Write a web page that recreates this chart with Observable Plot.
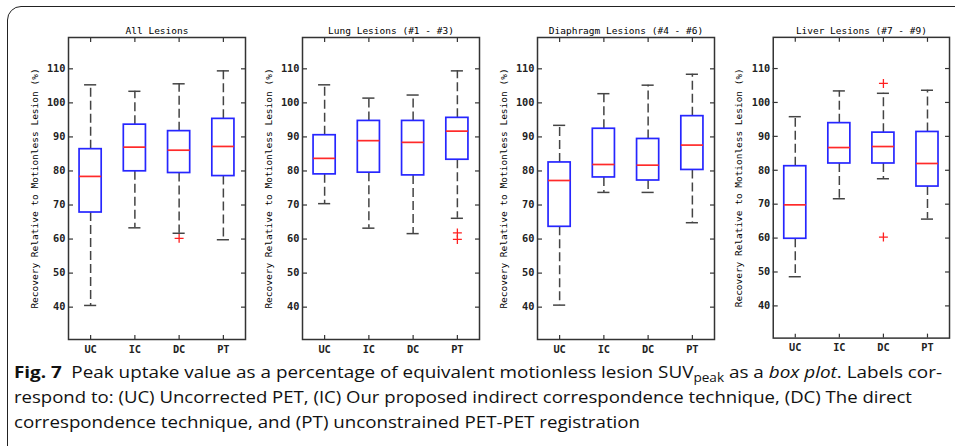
<!DOCTYPE html>
<html>
<head>
<meta charset="utf-8">
<script src="https://cdn.jsdelivr.net/npm/d3@7"></script>
<script src="https://cdn.jsdelivr.net/npm/@observablehq/plot@0.6"></script>
<style>
  html, body { margin: 0; padding: 0; background: #fff; }
  body { width: 955px; height: 446px; overflow: hidden; position: relative; }
  #border { position: absolute; left: 7px; top: 6px; width: 975px; height: 460px;
            border: 1.5px solid #222; border-radius: 14px; box-sizing: border-box; }
  .panel { position: absolute; top: 0; }
  .panel svg { background: transparent !important; overflow: visible; }
  #caption { position: absolute; left: 14px; top: 359px; font-family: "Open Sans", sans-serif;
             font-size: 16.5px; line-height: 25px; color: #111; }
  #caption .line { white-space: nowrap; display: block; height: 25px; }
  #caption .inner { display: inline-block; white-space: nowrap; transform-origin: 0 50%; }
  #caption b { font-weight: 700; }
  #caption sub { font-size: 0.72em; vertical-align: -0.3em; line-height: 0; }
</style>
</head>
<body>
<div id="border"></div>
<div id="panels"></div>
<div id="caption">
  <div class="line"><span class="inner"><b>Fig. 7</b>&ensp;Peak uptake value as a percentage of equivalent motionless lesion SUV<sub>peak</sub> as a <i>box plot</i>. Labels cor-</span></div>
  <div class="line"><span class="inner">respond to: (UC) Uncorrected PET, (IC) Our proposed indirect correspondence technique, (DC) The direct</span></div>
  <div class="line"><span class="inner">correspondence technique, and (PT) unconstrained PET-PET registration</span></div>
</div>
<script>
// ---- data ----
const categories = ["UC", "IC", "DC", "PT"];
const panelTitles = ["All Lesions", "Lung Lesions (#1 - #3)", "Diaphragm Lesions (#4 - #6)", "Liver Lesions (#7 - #9)"];
const yTicks = [40, 50, 60, 70, 80, 90, 100, 110];
// rows = panels, columns = categories (UC, IC, DC, PT)
const whiskerLow  = [[40.5, 63.3, 61.7, 59.8], [70.4, 63.2, 61.6, 66.1], [40.6, 73.7, 73.7, 64.8], [48.6, 71.6, 77.5, 65.6]];
const quartile1   = [[67.8, 79.9, 79.4, 78.5], [79.0, 79.5, 78.7, 83.3], [63.6, 78.1, 77.2, 80.3], [59.8, 82.0, 82.0, 75.2]];
const medians     = [[78.4, 87.0, 86.1, 87.2], [83.7, 88.9, 88.4, 91.7], [77.2, 81.9, 81.7, 87.6], [69.8, 86.7, 87.0, 82.0]];
const quartile3   = [[86.4, 93.6, 91.7, 95.3], [90.5, 94.7, 94.7, 95.6], [82.5, 92.4, 89.4, 96.1], [81.2, 93.9, 91.1, 91.3]];
const whiskerHigh = [[105.3, 103.4, 105.6, 109.4], [105.3, 101.4, 102.3, 109.4], [93.4, 102.7, 105.2, 108.4], [95.8, 103.4, 102.7, 103.6]];
// outliers: [panel index, category, value]
const outliers = [[0, "DC", 60.2], [1, "PT", 61.8], [1, "PT", 59.9], [3, "DC", 105.6], [3, "DC", 60.3]];

const frameLefts = [68, 302, 537, 773];
const ML = 64, MR = 6, FW = 177;
const yDomain = [30.5, 119.2];
const mono = "'DejaVu Sans Mono', monospace";

const container = document.getElementById("panels");
panelTitles.forEach((title, p) => {
  const stats = categories.map((c, i) => ({
    cat: c, lo: whiskerLow[p][i], q1: quartile1[p][i], med: medians[p][i],
    q3: quartile3[p][i], hi: whiskerHigh[p][i]
  }));
  const outs = outliers.filter(d => d[0] === p).map(d => ({cat: d[1], v: d[2]}));
  const chart = Plot.plot({
    width: ML + FW + MR,
    height: 360,
    marginLeft: ML, marginRight: MR, marginTop: 37, marginBottom: 21,
    style: {background: "transparent", overflow: "visible", fontFamily: mono},
    x: {type: "band", domain: categories, paddingInner: 0.5, paddingOuter: 0.25, round: false, label: null},
    y: {domain: yDomain, label: null},
    marks: [
      // inward ticks
      Plot.axisY(yTicks, {anchor: "left", tickSize: -5, text: null, stroke: "#333", strokeWidth: 1.2}),
      Plot.axisY(yTicks, {anchor: "right", tickSize: -5, text: null, stroke: "#333", strokeWidth: 1.2}),
      Plot.axisX({anchor: "top", tickSize: -4, text: null, stroke: "#333", strokeWidth: 1.2}),
      Plot.axisX({anchor: "bottom", tickSize: -4, text: null, stroke: "#333", strokeWidth: 1.2}),
      // tick labels
      Plot.axisY(yTicks, {anchor: "left", tickSize: 0, tickPadding: 3, fontSize: 10.3, fontWeight: "bold", fill: "#222", label: null}),
      Plot.axisX({anchor: "bottom", tickSize: 0, tickPadding: 6, fontSize: 10.3, fontWeight: "bold", fill: "#222", label: null}),
      // whiskers
      Plot.ruleX(stats, {x: "cat", y1: "q3", y2: "hi", stroke: "#444", strokeWidth: 1.5, strokeDasharray: "9,4"}),
      Plot.ruleX(stats, {x: "cat", y1: "q1", y2: "lo", stroke: "#444", strokeWidth: 1.5, strokeDasharray: "9,4"}),
      Plot.tickY(stats, {x: "cat", y: "hi", stroke: "#444", strokeWidth: 1.5, inset: 5}),
      Plot.tickY(stats, {x: "cat", y: "lo", stroke: "#444", strokeWidth: 1.5, inset: 5}),
      // boxes
      Plot.barY(stats, {x: "cat", y1: "q1", y2: "q3", fill: "none", stroke: "#2626ff", strokeWidth: 1.7}),
      Plot.tickY(stats, {x: "cat", y: "med", stroke: "#ff2a2a", strokeWidth: 1.7}),
      // outliers
      Plot.dot(outs, {x: "cat", y: "v", symbol: "plus", r: 3, stroke: "#ff2020", strokeWidth: 1.3}),
      Plot.frame({stroke: "#333", strokeWidth: 1.5}),
      // title and y label
      Plot.text([title], {frameAnchor: "top", dy: -10, fontSize: 9.5, fill: "#000"}),
      Plot.text(["Recovery Relative to Motionless Lesion (%)"], {frameAnchor: "left", dx: -34, rotate: -90, textAnchor: "middle", fontSize: 9.5, fill: "#000"})
    ]
  });
  const div = document.createElement("div");
  div.className = "panel";
  div.style.left = (frameLefts[p] - ML) + "px";
  div.appendChild(chart);
  container.appendChild(div);
});

// fit caption lines to the widths they occupy in the reference
const targets = [928, 898, 626];
document.querySelectorAll("#caption .inner").forEach((el, i) => {
  const w = el.getBoundingClientRect().width;
  if (w > 0) el.style.transform = `scaleX(${targets[i] / w})`;
});
</script>
</body>
</html>
